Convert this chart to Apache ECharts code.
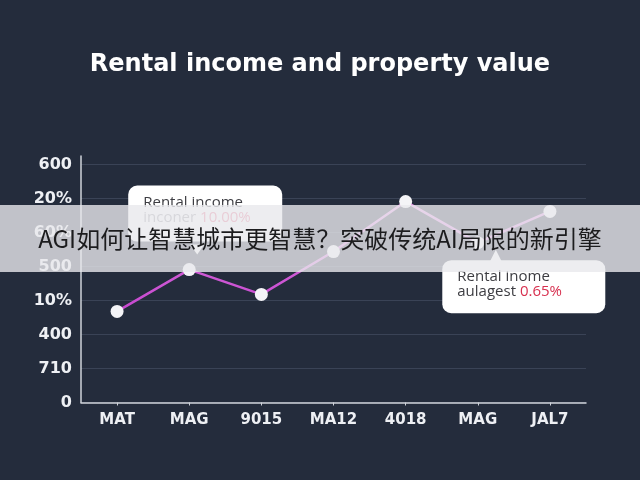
<!DOCTYPE html>
<html>
<head>
<meta charset="utf-8">
<script src="https://cdn.jsdelivr.net/npm/echarts@6/dist/echarts.min.js"></script>
<style>html,body{margin:0;padding:0;background:#242c3c;}#c{width:640px;height:480px;}</style>
</head>
<body>
<div id="c"></div>
<script>
var categories = ['MAT', 'MAG', '9015', 'MA12', '4018', 'MAG', 'JAL7'];
var values = [2.68, 3.91, 3.18, 4.44, 5.91, 4.7, 5.62];
var yTickLabels = ['0', '710', '400', '10%', '500', '60%', '20%', '600'];
var titleText = 'Rental income and property value';
var bannerText = 'AGI如何让智慧城市更智慧？突破传统AI局限的新引擎';
var note1 = {index: 1, line1: 'Rental income', line2a: 'inconer ', line2b: '10.00%'};
var note2 = {index: 5, line1: 'Rental inome', line2a: 'aulagest ', line2b: '0.65%'};

var chart = echarts.init(document.getElementById('c'), null, {renderer: 'canvas'});
var axisColor = '#cfd3da';
var labelFont = 'DejaVu Sans';

function roundRectPath(w, h, r) {
  return 'path://M' + r + ',0H' + (w - r) + 'A' + r + ',' + r + ' 0 0 1 ' + w + ',' + r +
    'V' + (h - r) + 'A' + r + ',' + r + ' 0 0 1 ' + (w - r) + ',' + h +
    'H' + r + 'A' + r + ',' + r + ' 0 0 1 0,' + (h - r) +
    'V' + r + 'A' + r + ',' + r + ' 0 0 1 ' + r + ',0Z';
}

function noteRich(c2) {
  return {
    a: {fontFamily: 'Open Sans', fontSize: 15, fontWeight: 500, color: '#3d3d42', lineHeight: 15},
    b: {fontFamily: 'Open Sans', fontSize: 15, fontWeight: 500, color: '#8f8f96', lineHeight: 15},
    c: {fontFamily: 'Open Sans', fontSize: 15, fontWeight: 500, color: c2, lineHeight: 15}
  };
}

chart.setOption({
  backgroundColor: '#242c3c',
  animation: false,
  title: {
    text: titleText,
    left: 'center',
    top: 48,
    textStyle: {color: '#ffffff', fontFamily: 'DejaVu Sans', fontWeight: 'bold', fontSize: 24}
  },
  grid: {left: 81, right: 54, top: 156, bottom: 77.5},
  xAxis: {
    type: 'category',
    data: categories,
    boundaryGap: true,
    axisLine: {show: true, lineStyle: {color: axisColor, width: 1.5}},
    axisTick: {show: true, alignWithLabel: true, length: 3, lineStyle: {color: axisColor}},
    axisLabel: {color: '#eef0f4', fontFamily: labelFont, fontWeight: 'bold', fontSize: 15, margin: 10}
  },
  yAxis: {
    type: 'value',
    min: 0,
    max: 7.25,
    interval: 1,
    axisLine: {show: true, lineStyle: {color: axisColor, width: 1.5}},
    axisTick: {show: false},
    axisLabel: {
      color: '#eef0f4', fontFamily: labelFont, fontWeight: 'bold', fontSize: 16, margin: 9,
      showMaxLabel: false,
      formatter: function (v) {
        return (Math.abs(v - Math.round(v)) < 1e-6 && yTickLabels[Math.round(v)] !== undefined) ? yTickLabels[Math.round(v)] : '';
      }
    },
    splitLine: {show: true, showMaxLine: false, lineStyle: {color: '#3a4356', width: 1}}
  },
  series: [{
    type: 'line',
    data: values,
    symbol: 'circle',
    symbolSize: 13,
    lineStyle: {
      width: 2.5,
      color: new echarts.graphic.LinearGradient(0, 1, 0, 0, [
        {offset: 0, color: '#c646cf'},
        {offset: 0.5, color: '#d262d8'},
        {offset: 1, color: '#e48ee4'}
      ])
    },
    itemStyle: {color: '#f4f4f7', borderWidth: 0},
    z: 3,
    markPoint: {
      silent: true,
      z: 5,
      data: [
        {
          coord: [note1.index, values[note1.index]],
          symbol: roundRectPath(154, 56, 9), symbolSize: [154, 56], symbolOffset: [16, -56],
          itemStyle: {color: '#ffffff'},
          label: {
            show: true, position: [15, 10], align: 'left', verticalAlign: 'top',
            formatter: '{a|' + note1.line1 + '}\n{b|' + note1.line2a + '}{c|' + note1.line2b + '}',
            rich: noteRich('#e8607f')
          }
        },
        {
          coord: [note1.index, values[note1.index]],
          symbol: 'triangle', symbolSize: [14, 10], symbolRotate: 180, symbolOffset: [8, -20],
          itemStyle: {color: '#ffffff'}, label: {show: false}
        },
        {
          coord: [note2.index, values[note2.index]],
          symbol: roundRectPath(163, 53, 9), symbolSize: [163, 53], symbolOffset: [46, 44],
          itemStyle: {color: '#ffffff'},
          label: {
            show: true, position: [15, 9], align: 'left', verticalAlign: 'top',
            formatter: '{a|' + note2.line1 + '}\n{a|' + note2.line2a + '}{c|' + note2.line2b + '}',
            rich: noteRich('#d7304f')
          }
        },
        {
          coord: [note2.index, values[note2.index]],
          symbol: 'triangle', symbolSize: [12, 12], symbolOffset: [18, 13],
          itemStyle: {color: '#ffffff'}, label: {show: false}
        }
      ]
    }
  }],
  graphic: [
    {
      type: 'rect', z: 100, silent: true,
      shape: {x: 0, y: 205, width: 640, height: 67},
      style: {fill: 'rgba(232,233,236,0.8)'}
    },
    {
      type: 'text', z: 101, silent: true,
      x: 320, y: 239,
      style: {
        text: bannerText, fill: '#1c1c1e',
        font: '24px "Noto Sans CJK SC"',
        textAlign: 'center', textVerticalAlign: 'middle'
      }
    }
  ]
});
</script>
</body>
</html>
